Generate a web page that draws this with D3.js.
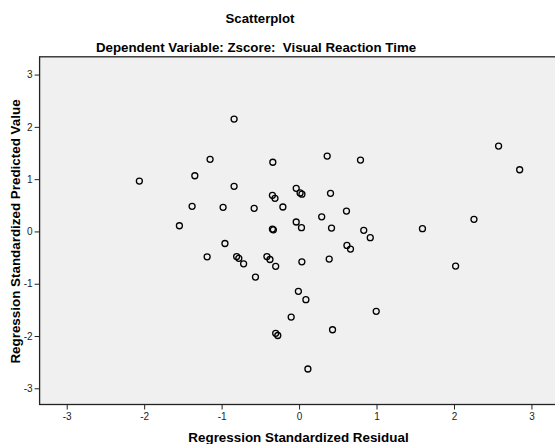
<!DOCTYPE html>
<html>
<head>
<meta charset="utf-8">
<script src="https://cdn.jsdelivr.net/npm/d3@7"></script>
<style>
  body { margin: 0; background: #fff; }
  text { font-family: Arial, "Liberation Sans", sans-serif; }
</style>
</head>
<body>
<div id="chart"></div>
<script>
// Data
const residual = [
  -0.839, -1.149, -0.339, 0.363, -2.062, -1.346, -0.839, -0.344, -0.311, -0.037,
  0.013, 0.037, 0.406, -1.381, -0.981, -0.580, -0.209, -1.545, -0.344, -0.332,
  -0.037, 0.031, 0.292, 0.419, 0.612, 0.793, 2.576, 2.848, 0.835, 0.919,
  1.593, 2.258, 0.618, 0.664, -0.957, -1.187, -0.806, -0.778, -0.716, -0.415,
  -0.376, -0.302, 0.036, 0.389, 2.021, -0.563, -0.009, 0.088, -0.102, 0.996,
  0.432, -0.302, -0.275, 0.114
];
const predicted = [
  2.149, 1.379, 1.323, 1.442, 0.964, 1.065, 0.862, 0.690, 0.633, 0.824,
  0.736, 0.713, 0.728, 0.480, 0.461, 0.442, 0.467, 0.109, 0.046, 0.031,
  0.180, 0.071, 0.279, 0.065, 0.390, 1.365, 1.633, 1.180, 0.021, -0.120,
  0.052, 0.231, -0.268, -0.337, -0.231, -0.486, -0.480, -0.514, -0.620, -0.480,
  -0.537, -0.667, -0.581, -0.528, -0.662, -0.872, -1.145, -1.306, -1.637, -1.528,
  -1.880, -1.948, -1.990, -2.631
];
const xTicks = [-3, -2, -1, 0, 1, 2, 3];
const yTicks = [-3, -2, -1, 0, 1, 2, 3];
const title = "Scatterplot";
const subtitle = "Dependent Variable: Zscore:  Visual Reaction Time";
const xLabel = "Regression Standardized Residual";
const yLabel = "Regression Standardized Predicted Value";

const width = 555, height = 444;
const plot = { left: 39.6, right: 557, top: 56.8, bottom: 404.5 };

const svg = d3.select("#chart").append("svg")
  .attr("width", width)
  .attr("height", height);

const xScale = d3.scaleLinear().domain([-3.35, 3.33]).range([plot.left, plot.right]);
const yScale = d3.scaleLinear().domain([-3.31, 3.34]).range([plot.bottom, plot.top]);

// Titles
svg.append("text")
  .attr("x", 260).attr("y", 23.3)
  .attr("text-anchor", "middle")
  .style("font-size", "13.2px").style("font-weight", "bold")
  .text(title);

svg.append("text")
  .attr("x", 256).attr("y", 51.7)
  .attr("text-anchor", "middle")
  .style("font-size", "13.3px").style("font-weight", "bold")
  .style("white-space", "pre")
  .text(subtitle);

// Plot background
svg.append("rect")
  .attr("x", plot.left).attr("y", plot.top)
  .attr("width", plot.right - plot.left)
  .attr("height", plot.bottom - plot.top)
  .attr("fill", "#f0f0f0")
  .attr("stroke", "#222")
  .attr("stroke-width", 1.3);

// Axes
const xAxis = d3.axisBottom(xScale).tickValues(xTicks).tickSize(5).tickPadding(3).tickFormat(d3.format("d"));
const yAxis = d3.axisLeft(yScale).tickValues(yTicks).tickSize(5).tickPadding(2).tickFormat(d3.format("d"));

const gx = svg.append("g")
  .attr("transform", `translate(0,${plot.bottom})`)
  .call(xAxis);
const gy = svg.append("g")
  .attr("transform", `translate(${plot.left},0)`)
  .call(yAxis);

[gx, gy].forEach(g => {
  g.select(".domain").remove();
  g.selectAll(".tick line").attr("stroke", "#222").attr("stroke-width", 1);
  g.selectAll(".tick text")
    .attr("fill", "#222")
    .style("font-size", "10px")
    .style("font-family", "Arial, 'Liberation Sans', sans-serif")
    .text(d => d < 0 ? "-" + Math.abs(d) : d);
});

// Axis labels
svg.append("text")
  .attr("x", 298.5).attr("y", 442)
  .attr("text-anchor", "middle")
  .style("font-size", "13.4px").style("font-weight", "bold")
  .text(xLabel);

svg.append("text")
  .attr("transform", "rotate(-90)")
  .attr("x", -231.5).attr("y", 20)
  .attr("text-anchor", "middle")
  .style("font-size", "13.4px").style("font-weight", "bold")
  .text(yLabel);

// Points
svg.append("g")
  .selectAll("circle")
  .data(d3.range(residual.length))
  .enter().append("circle")
  .attr("cx", i => xScale(residual[i]))
  .attr("cy", i => yScale(predicted[i]))
  .attr("r", 3)
  .attr("fill", "none")
  .attr("stroke", "#000")
  .attr("stroke-width", 1.3);
</script>
</body>
</html>
